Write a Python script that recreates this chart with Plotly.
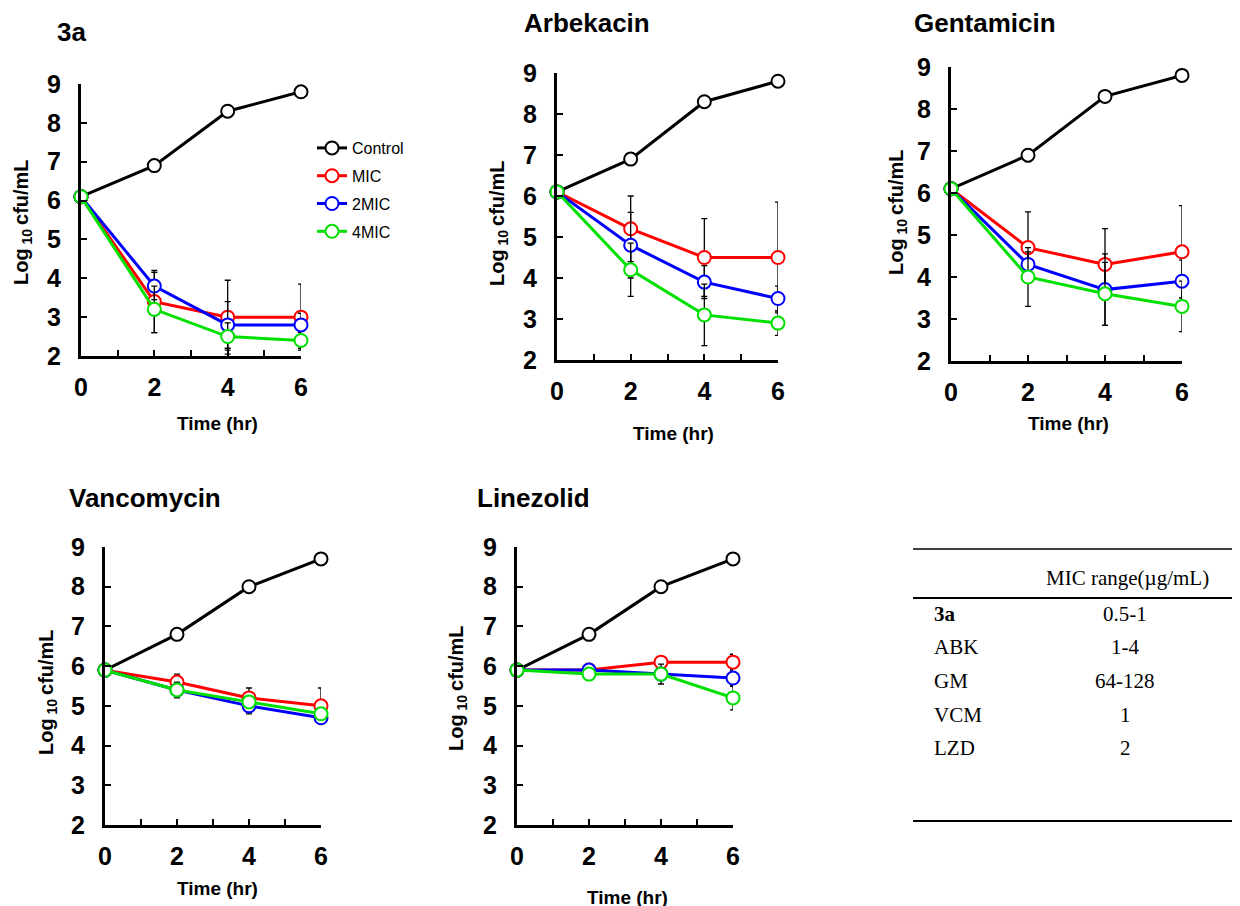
import plotly.graph_objects as go

W, H = 1240, 906
OFF = 8  # page body margin in the browser

times = [0, 2, 4, 6]
series_names = ["Control", "MIC", "2MIC", "4MIC"]
series_colors = ["#000000", "#ff0000", "#0000ff", "#00e000"]

panel_titles = ["3a", "Arbekacin", "Gentamicin", "Vancomycin", "Linezolid"]

# values per panel: Control, MIC, 2MIC, 4MIC
p_3a = [[6.1, 6.9, 8.3, 8.8], [6.1, 3.4, 3.0, 3.0], [6.1, 3.8, 2.8, 2.8], [6.1, 3.2, 2.5, 2.4]]
e_3a = [[0, 0.1, 0.05, 0.1], [0, 0.8, 0.95, 0.85], [0, 0.35, 0.6, 0.3], [0, 0.6, 0.35, 0.2]]

p_abk = [[6.1, 6.9, 8.3, 8.8], [6.1, 5.2, 4.5, 4.5], [6.1, 4.8, 3.9, 3.5], [6.1, 4.2, 3.1, 2.9]]
e_abk = [[0, 0.12, 0.05, 0.12], [0, 0.8, 0.95, 1.35], [0, 0.8, 0.4, 0.3], [0, 0.65, 0.75, 0.3]]

p_gm = [[6.1, 6.9, 8.3, 8.8], [6.1, 4.7, 4.3, 4.6], [6.1, 4.3, 3.7, 3.9], [6.1, 4.0, 3.6, 3.3]]
e_gm = [[0, 0.15, 0.05, 0.15], [0, 0.85, 0.85, 1.1], [0, 0.3, 0.85, 0.5], [0, 0.7, 0.75, 0.6]]

p_vcm = [[5.9, 6.8, 8.0, 8.7], [5.9, 5.6, 5.2, 5.0], [5.9, 5.4, 5.0, 4.7], [5.9, 5.4, 5.1, 4.8]]
e_vcm = [[0, 0.12, 0.05, 0.05], [0, 0.2, 0.25, 0.45], [0, 0.1, 0.2, 0.1], [0, 0.2, 0.15, 0.1]]

p_lzd = [[5.9, 6.8, 8.0, 8.7], [5.9, 5.9, 6.1, 6.1], [5.9, 5.9, 5.8, 5.7], [5.9, 5.8, 5.8, 5.2]]
e_lzd = [[0, 0.12, 0.1, 0.05], [0, 0.05, 0.05, 0.2], [0, 0.05, 0.05, 0.2], [0, 0.05, 0.25, 0.3]]

panel_values = [p_3a, p_abk, p_gm, p_vcm, p_lzd]
panel_errors = [e_3a, e_abk, e_gm, e_vcm, e_lzd]

y_ticks = [2, 3, 4, 5, 6, 7, 8, 9]
x_tick_vals = [0, 2, 4, 6]
x_minor_vals = [1, 3, 5]

table_header = "MIC range(\u00b5g/mL)"
table_rows = ["3a", "ABK", "GM", "VCM", "LZD"]
table_vals = ["0.5-1", "1-4", "64-128", "1", "2"]

# layout (pixel boxes: x0, x1, ytop, ybottom)
boxes = [(81, 301, 84, 356), (557, 778, 73, 360), (951, 1182, 67, 361),
         (105, 321, 547, 825), (517, 733, 547, 825)]
title_pos = [(55, 32), (522, 23), (912, 23), (67, 498), (475, 498)]
ylab_pos = [(22, 222), (498, 223), (897, 212), (47, 692), (457, 688)]
xlab_pos = [(217, 423), (673, 433), (1068, 423), (218, 888), (627, 897)]


def px(x):
    return (x - OFF) / W


def py(y):
    return 1 - (y - OFF) / H


fig = go.Figure()
SANS = "Liberation Sans, Arial, sans-serif"
SERIF = "Liberation Serif, Times New Roman, serif"

annotations = []
shapes = []
layout_axes = {}
for i, (vals, errs) in enumerate(zip(panel_values, panel_errors)):
    n = i + 1
    xa = "x" if n == 1 else f"x{n}"
    ya = "y" if n == 1 else f"y{n}"
    for s, (name, col) in enumerate(zip(series_names, series_colors)):
        fig.add_trace(go.Scatter(
            x=times, y=vals[s], mode="lines+markers", name=name,
            xaxis=xa, yaxis=ya, legendgroup=name, showlegend=(i == 0),
            line=dict(color=col, width=3),
            marker=dict(symbol="circle", size=13, color="white",
                        line=dict(color=col, width=2)),
            error_y=dict(type="data", array=errs[s], visible=True,
                         color="black", thickness=1.3, width=3),
            cliponaxis=False,
        ))
    x0, x1, yt, yb = boxes[i]
    layout_axes[f"xaxis{'' if n == 1 else n}"] = dict(
        domain=[px(x0), px(x1)], range=[0, 6], anchor=ya, automargin=False,
        showline=True, linewidth=3, linecolor="black", mirror=False,
        showgrid=False, zeroline=False, ticks="inside", ticklen=6, tickwidth=2,
        tickcolor="black", tickvals=x_tick_vals,
        minor=dict(tickvals=x_minor_vals, ticks="inside", ticklen=6, tickwidth=2,
                   tickcolor="black", showgrid=False),
        tickfont=dict(family=SANS, size=25, color="black", weight="bold"),
        ticklabelstandoff=7,
    )
    layout_axes[f"yaxis{'' if n == 1 else n}"] = dict(
        domain=[py(yb), py(yt)], range=[2, 9], anchor=xa, automargin=False,
        showline=True, linewidth=3, linecolor="black",
        showgrid=False, zeroline=False, ticks="inside", ticklen=6, tickwidth=2,
        tickcolor="black", tickvals=y_ticks,
        tickfont=dict(family=SANS, size=25, color="black", weight="bold"),
        ticklabelstandoff=12,
    )
    tx, ty = title_pos[i]
    annotations.append(dict(x=px(tx), y=py(ty), xref="paper", yref="paper",
                            text=f"<b>{panel_titles[i]}</b>", showarrow=False,
                            xanchor="left", yanchor="middle",
                            font=dict(family=SANS, size=26, color="black")))
    lx, ly = ylab_pos[i]
    annotations.append(dict(x=px(lx), y=py(ly), xref="paper", yref="paper",
                            text="<b>Log<sub> 10 </sub>cfu/mL</b>", showarrow=False,
                            textangle=-90, xanchor="center", yanchor="middle",
                            font=dict(family=SANS, size=20, color="black")))
    ax, ay = xlab_pos[i]
    annotations.append(dict(x=px(ax), y=py(ay), xref="paper", yref="paper",
                            text="<b>Time (hr)</b>", showarrow=False,
                            xanchor="center", yanchor="middle",
                            font=dict(family=SANS, size=19, color="black")))

# table
TX0, TX1 = 913, 1240
shapes.append(dict(type="line", xref="paper", yref="paper", x0=px(TX0), x1=px(TX1),
                   y0=py(549), y1=py(549), line=dict(color="black", width=1.5)))
shapes.append(dict(type="line", xref="paper", yref="paper", x0=px(TX0), x1=px(TX1),
                   y0=py(598), y1=py(598), line=dict(color="black", width=2)))
shapes.append(dict(type="line", xref="paper", yref="paper", x0=px(TX0), x1=px(TX1),
                   y0=py(821), y1=py(821), line=dict(color="black", width=2)))
annotations.append(dict(x=px(1127), y=py(578), xref="paper", yref="paper",
                        text=table_header, showarrow=False, xanchor="center",
                        yanchor="middle", font=dict(family=SERIF, size=21, color="black")))
row_y = [614, 647, 681, 715, 748]
for k, (lab, val) in enumerate(zip(table_rows, table_vals)):
    txt = f"<b>{lab}</b>" if k == 0 else lab
    annotations.append(dict(x=px(932), y=py(row_y[k]), xref="paper", yref="paper",
                            text=txt, showarrow=False, xanchor="left", yanchor="middle",
                            font=dict(family=SERIF, size=21, color="black")))
    annotations.append(dict(x=px(1125), y=py(row_y[k]), xref="paper", yref="paper",
                            text=val, showarrow=False, xanchor="center", yanchor="middle",
                            font=dict(family=SERIF, size=21, color="black")))

fig.update_layout(
    width=W, height=H, margin=dict(l=0, r=0, t=0, b=0, pad=0, autoexpand=False),
    paper_bgcolor="white", plot_bgcolor="white",
    showlegend=True,
    legend=dict(x=px(312), y=py(131), xanchor="left", yanchor="top",
                bgcolor="rgba(0,0,0,0)", font=dict(family=SANS, size=16, color="black"),
                tracegroupgap=4, itemwidth=30),
    annotations=annotations, shapes=shapes,
    **layout_axes,
)

fig.write_html("out.html", config={"displayModeBar": False})
